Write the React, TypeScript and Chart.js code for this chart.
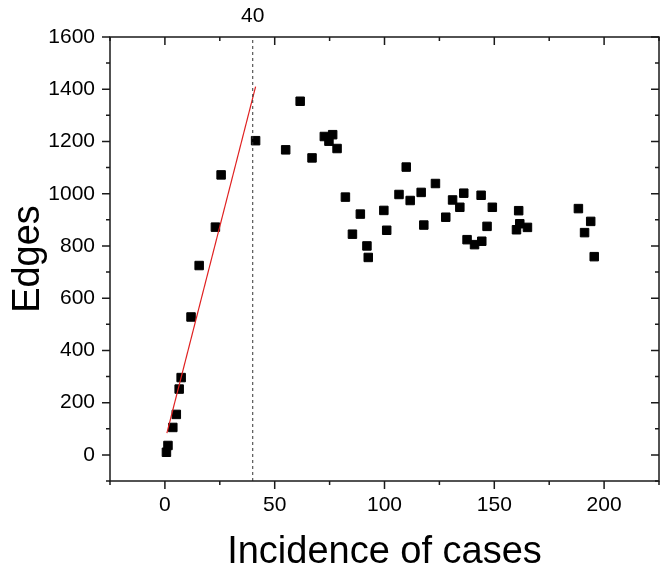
import { useEffect, useRef } from 'react';
import { Chart, registerables } from 'chart.js';

Chart.register(...registerables);

const incidence = [
  0.7, 1.4, 3.6, 5.2, 6.5, 7.4, 11.9, 15.6, 23.0, 25.6,
  41.3, 55.0, 61.6, 67.0, 72.6, 74.7, 76.4, 78.4, 82.2, 85.4,
  89.0, 92.0, 92.6, 99.7, 101.0, 106.6, 109.9, 111.7, 116.7, 117.9,
  123.2, 127.9, 131.0, 134.3, 136.1, 137.6, 141.0, 144.3, 144.0, 146.7,
  149.1, 160.1, 161.1, 161.6, 165.1, 188.3, 191.1, 193.9, 195.5,
];
const edges = [
  10, 36, 105, 155, 252, 296, 528, 725, 872, 1072,
  1203, 1168, 1354, 1137, 1219, 1201, 1226, 1173, 987, 845,
  922, 800, 756, 936, 860, 997, 1102, 974, 1005, 880,
  1039, 910, 976, 948, 1002, 824, 805, 818, 994, 875,
  948, 862, 935, 885, 871, 943, 851, 894, 759,
];
const fitX = [0.9, 41.3];
const fitY = [83, 1410];
const thresholdX = 40;
const thresholdLabel = '40';
const xMajor = [0, 50, 100, 150, 200];
const xMinor = [-25, 25, 75, 125, 175, 225];
const yMajor = [0, 200, 400, 600, 800, 1000, 1200, 1400, 1600];
const yMinor = [-100, 100, 300, 500, 700, 900, 1100, 1300, 1500];
const xLimits = [-25, 225];
const yLimits = [-100, 1600];
const xTitle = 'Incidence of cases';
const yTitle = 'Edges';

const FONT = '"Liberation Sans", Arial, sans-serif';

const framePlugin = {
  id: 'frameTicks',
  afterDraw(chart: any) {
    const { ctx, chartArea, scales } = chart;
    const { left, right, top, bottom } = chartArea;
    const x = scales.x;
    const y = scales.y;
    ctx.save();
    ctx.strokeStyle = '#1a1a1a';
    ctx.lineWidth = 1.5;
    ctx.strokeRect(left, top, right - left, bottom - top);
    ctx.beginPath();
    const major = 8;
    const minor = 4;
    xMajor.forEach((v) => {
      const px = x.getPixelForValue(v);
      ctx.moveTo(px, bottom); ctx.lineTo(px, bottom + major);
      ctx.moveTo(px, top); ctx.lineTo(px, top + major);
    });
    xMinor.forEach((v) => {
      const px = x.getPixelForValue(v);
      ctx.moveTo(px, bottom); ctx.lineTo(px, bottom + minor);
      ctx.moveTo(px, top); ctx.lineTo(px, top + minor);
    });
    yMajor.forEach((v) => {
      const py = y.getPixelForValue(v);
      ctx.moveTo(left, py); ctx.lineTo(left - major, py);
      ctx.moveTo(right, py); ctx.lineTo(right - major, py);
    });
    yMinor.forEach((v) => {
      const py = y.getPixelForValue(v);
      ctx.moveTo(left, py); ctx.lineTo(left - minor, py);
      ctx.moveTo(right, py); ctx.lineTo(right - minor, py);
    });
    ctx.stroke();
    ctx.font = `21px ${FONT}`;
    ctx.fillStyle = '#000';
    ctx.textAlign = 'center';
    ctx.textBaseline = 'alphabetic';
    ctx.fillText(thresholdLabel, x.getPixelForValue(thresholdX), top - 15);
    ctx.restore();
  },
};

export default function App() {
  const ref = useRef<HTMLCanvasElement | null>(null);

  useEffect(() => {
    document.body.style.margin = '0';
    const canvas = ref.current;
    if (!canvas) return;
    const chart = new Chart(canvas, {
      type: 'scatter',
      data: {
        datasets: [
          {
            type: 'line',
            label: 'threshold',
            data: [
              { x: thresholdX, y: yLimits[0] },
              { x: thresholdX, y: yLimits[1] },
            ],
            borderColor: '#333',
            borderWidth: 1,
            borderDash: [3, 3],
            pointRadius: 0,
            fill: false,
          },
          {
            type: 'line',
            label: 'fit',
            data: fitX.map((v, i) => ({ x: v, y: fitY[i] })),
            borderColor: '#e02020',
            borderWidth: 1.2,
            pointRadius: 0,
            fill: false,
          },
          {
            label: 'Edges',
            data: incidence.map((v, i) => ({ x: v, y: edges[i] })),
            pointStyle: 'rect',
            pointRadius: 6,
            pointHoverRadius: 6,
            backgroundColor: '#000',
            borderColor: '#000',
            borderWidth: 1,
          },
        ],
      },
      options: {
        responsive: false,
        animation: false,
        devicePixelRatio: 1,
        layout: { padding: { top: 37, right: 4, left: 0, bottom: 0 } },
        plugins: {
          legend: { display: false },
          tooltip: { enabled: false },
        },
        scales: {
          x: {
            type: 'linear',
            min: xLimits[0],
            max: xLimits[1],
            afterBuildTicks: (scale: any) => {
              scale.ticks = xMajor.map((v) => ({ value: v }));
            },
            afterFit: (scale: any) => {
              scale.height = 93;
            },
            grid: { display: false, drawTicks: false },
            border: { display: false },
            ticks: {
              color: '#000',
              padding: 12,
              maxRotation: 0,
              font: { family: FONT, size: 21 },
              callback: (v: any) => String(v),
            },
            title: {
              display: true,
              text: xTitle,
              color: '#000',
              font: { family: FONT, size: 38, lineHeight: 1 },
              padding: { top: 0, bottom: 2 },
            },
          },
          y: {
            type: 'linear',
            min: yLimits[0],
            max: yLimits[1],
            afterBuildTicks: (scale: any) => {
              scale.ticks = yMajor.map((v) => ({ value: v }));
            },
            afterFit: (scale: any) => {
              scale.width = 110;
            },
            grid: { display: false, drawTicks: false },
            border: { display: false },
            ticks: {
              color: '#000',
              padding: 15,
              font: { family: FONT, size: 21 },
              callback: (v: any) => String(v),
            },
            title: {
              display: true,
              text: yTitle,
              color: '#000',
              font: { family: FONT, size: 38, lineHeight: 1 },
              padding: { top: 10, bottom: 0 },
            },
          },
        },
      },
      plugins: [framePlugin],
    });
    return () => chart.destroy();
  }, []);

  return (
    <canvas
      ref={ref}
      width={666}
      height={574}
      style={{ display: 'block', width: 666, height: 574 }}
    />
  );
}
